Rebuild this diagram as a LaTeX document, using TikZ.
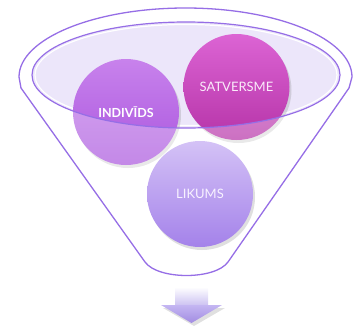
\documentclass[tikz,border=0pt]{standalone}
\usepackage{fontspec}
\setmainfont{Lato}
\usetikzlibrary{shadows}
\definecolor{funnelline}{RGB}{150,110,230}
\definecolor{rimfill}{RGB}{236,230,250}
\tikzset{
    ball/.style={circle, minimum size=106pt, inner sep=0pt, text=white,
        font=\fontsize{13}{15}\selectfont,
        drop shadow={opacity=0.25, shadow xshift=2pt, shadow yshift=-3pt}},
    funnel/.style={draw=funnelline, line width=1.3pt}
}
\begin{document}
\begin{tikzpicture}[x=1pt, y=-1pt]
        \useasboundingbox (0, 0) rectangle (363, 327);
        \fill[rimfill] (186, 75) ellipse[x radius=154, y radius=53];
        \draw[white, line width=1.2pt] (186, 75) ellipse[x radius=151, y radius=50.5];
        \node[ball, top color={rgb,255:red,200;green,130;blue,236}, bottom color={rgb,255:red,170;green,86;blue,222},
            font=\fontsize{12.5}{14}\selectfont\bfseries] (indiv) at (126, 112) {INDIVĪDS};
        \node[ball, top color={rgb,255:red,220;green,100;blue,212}, bottom color={rgb,255:red,182;green,52;blue,168},
            text={rgb,255:red,250;green,235;blue,250}] (satv) at (236.5, 87) {SATVERSME};
        \fill[white, opacity=0.3, even odd rule]
            (19, 5) -- (352, 5) -- (352, 88) -- (228, 262) .. controls (215, 280) and (158, 280) .. (145, 262) -- (19, 88) -- cycle
            (186, 75) ellipse[x radius=154, y radius=53];
        \draw[funnelline, line width=1.2pt] (186, 75) ellipse[x radius=154, y radius=53];
        % Trichter
        \draw[funnel] (19, 77) arc[start angle=180, end angle=0, x radius=166.5, y radius=-69]
            -- (349, 88) -- (228, 262) .. controls (215, 280) and (158, 280) .. (145, 262)
            -- (21, 88) -- cycle;
        \node[ball, top color={rgb,255:red,212;green,194;blue,246}, bottom color={rgb,255:red,164;green,130;blue,234},
            text={rgb,255:red,248;green,242;blue,255}] (lik) at (200, 194) {LIKUMS};
        % Pfeil
        \shade[top color=white, bottom color={rgb,255:red,205;green,195;blue,242}] (175, 287) rectangle (208, 305);
        \fill[black, opacity=0.12] (163, 308) -- (225, 308) -- (194, 326) -- cycle;
        \shade[top color={rgb,255:red,196;green,182;blue,242}, bottom color={rgb,255:red,162;green,140;blue,226}]
            (161, 305) -- (222, 305) -- (191.5, 323) -- cycle;
    \end{tikzpicture}
\end{document}
